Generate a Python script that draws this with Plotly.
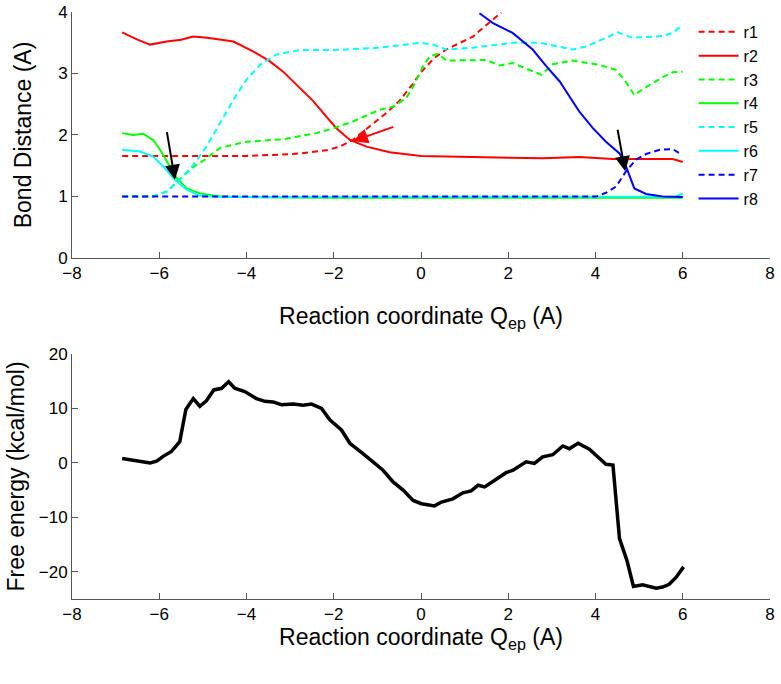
import plotly.graph_objects as go

# ---------------- data: bond distances (A) vs reaction coordinate ----------------
r1_x = [-6.85, -6.0, -5.0, -4.0, -3.2, -2.78, -2.17, -1.86, -1.56, -1.18, -0.79, -0.5, -0.2, 0.0, 0.3, 0.58, 0.9, 1.19, 1.5, 1.84]
r1_y = [1.66, 1.66, 1.66, 1.66, 1.68, 1.70, 1.75, 1.81, 1.92, 2.14, 2.36, 2.55, 2.82, 3.02, 3.25, 3.39, 3.5, 3.6, 3.79, 3.99]

r2_x = [-6.85, -6.5, -6.21, -5.83, -5.5, -5.22, -4.9, -4.61, -4.3, -3.85, -3.47, -3.16, -2.78, -2.47, -2.17, -1.94, -1.63, -1.25, -0.72, 0.0, 0.58, 1.2, 2.1, 2.8, 3.63, 4.4, 5.0, 5.77, 6.0]
r2_y = [3.67, 3.55, 3.47, 3.52, 3.55, 3.60, 3.58, 3.55, 3.52, 3.36, 3.20, 3.03, 2.76, 2.55, 2.30, 2.11, 1.92, 1.81, 1.72, 1.66, 1.65, 1.64, 1.62, 1.62, 1.64, 1.61, 1.61, 1.61, 1.56]

r3_x = [-6.85, -6.14, -5.83, -5.53, -5.22, -4.95, -4.61, -4.0, -3.16, -2.4, -2.0, -1.56, -0.95, -0.64, -0.34, -0.18, 0.05, 0.2, 0.39, 0.58, 1.19, 1.5, 1.8, 2.1, 2.41, 2.76, 3.02, 3.48, 4.09, 4.47, 4.66, 4.89, 5.16, 5.54, 5.77, 6.0]
r3_y = [1.0, 1.0, 1.08, 1.27, 1.48, 1.6, 1.79, 1.89, 1.93, 2.03, 2.11, 2.22, 2.41, 2.46, 2.6, 2.79, 3.12, 3.28, 3.32, 3.21, 3.21, 3.22, 3.13, 3.17, 3.08, 2.98, 3.15, 3.21, 3.14, 3.06, 2.9, 2.65, 2.78, 2.94, 3.02, 3.03]

r4_x = [-6.85, -6.6, -6.37, -6.14, -5.98, -5.76, -5.6, -5.37, -5.07, -4.6, -4.0, -2.0, 0.0, 2.0, 4.0, 6.0]
r4_y = [2.03, 2.0, 2.02, 1.92, 1.76, 1.49, 1.30, 1.13, 1.05, 1.0, 0.99, 0.98, 0.98, 0.98, 0.98, 0.98]

r5_x = [-6.85, -6.14, -5.83, -5.53, -5.22, -4.92, -4.61, -4.3, -4.0, -3.69, -3.31, -2.78, -2.0, -0.95, 0.0, 0.27, 0.58, 1.19, 2.1, 2.72, 3.48, 3.79, 4.24, 4.51, 4.85, 5.54, 5.77, 6.0]
r5_y = [1.0, 1.0, 1.08, 1.27, 1.51, 1.81, 2.19, 2.57, 2.90, 3.14, 3.31, 3.38, 3.38, 3.42, 3.50, 3.47, 3.39, 3.42, 3.50, 3.50, 3.39, 3.44, 3.58, 3.67, 3.58, 3.61, 3.66, 3.79]

r6_x = [-6.85, -6.44, -6.14, -5.91, -5.64, -5.37, -5.07, -4.5, -3.0, 0.0, 3.0, 5.5, 5.85, 6.0]
r6_y = [1.76, 1.73, 1.65, 1.49, 1.27, 1.11, 1.01, 0.99, 0.99, 0.99, 0.99, 0.99, 1.0, 1.05]

r7_x = [-6.85, -4.0, 0.0, 2.0, 4.02, 4.24, 4.47, 4.7, 4.93, 5.16, 5.47, 5.77, 5.96]
r7_y = [1.0, 1.0, 1.0, 1.0, 1.0, 1.06, 1.16, 1.41, 1.60, 1.69, 1.76, 1.77, 1.69]

r8_x = [1.34, 1.65, 2.1, 2.56, 2.87, 3.18, 3.4, 3.63, 3.94, 4.24, 4.55, 4.7, 4.89, 5.16, 5.54, 6.0]
r8_y = [3.98, 3.82, 3.66, 3.39, 3.12, 2.87, 2.63, 2.38, 2.11, 1.89, 1.70, 1.49, 1.13, 1.04, 1.0, 0.99]

# ---------------- data: free energy (kcal/mol) ----------------
fe_x = [-6.85, -6.44, -6.21, -6.06, -5.91, -5.72, -5.53, -5.39, -5.22, -5.07, -4.92, -4.75, -4.57, -4.41,
        -4.27, -4.04, -3.77, -3.58, -3.39, -3.2, -2.93, -2.7, -2.51, -2.28, -2.09, -1.82, -1.63, -1.33,
        -1.1, -0.87, -0.64, -0.41, -0.18, 0.01, 0.31, 0.47, 0.73, 0.96, 1.15, 1.31, 1.46, 1.76, 1.95,
        2.11, 2.41, 2.6, 2.79, 3.02, 3.25, 3.4, 3.6, 3.86, 4.09, 4.24, 4.4, 4.49, 4.55, 4.72, 4.87,
        5.08, 5.39, 5.54, 5.69, 5.85, 6.02]
fe_y = [0.8, 0.37, 0.0, 0.3, 1.2, 2.1, 3.9, 9.8, 11.8, 10.4, 11.4, 13.4, 13.7, 14.9,
        13.7, 13.1, 11.8, 11.3, 11.2, 10.7, 10.8, 10.6, 10.8, 10.0, 7.9, 6.0, 3.6, 1.7,
        0.2, -1.35, -3.5, -5.0, -6.9, -7.5, -7.9, -7.2, -6.6, -5.5, -5.15, -4.1, -4.4, -2.9, -1.8,
        -1.35, 0.2, -0.1, 1.1, 1.5, 3.1, 2.6, 3.6, 2.5, 0.8, -0.25, -0.4, -8.7, -13.9, -17.9, -22.7,
        -22.4, -23.0, -22.8, -22.3, -21.0, -19.1]

# arrows: (tail_x, tail_y, head_x, head_y, colour)
arrows = [(-5.83, 2.07, -5.64, 1.27, "black"),
          (4.5, 2.11, 4.68, 1.41, "black"),
          (-0.6, 2.14, -1.56, 1.9, "red")]

x_ticks = [-8, -6, -4, -2, 0, 2, 4, 6, 8]
top_y_ticks = [0, 1, 2, 3, 4]
bot_y_ticks = [-20, -10, 0, 10, 20]

RED, GREEN, CYAN, BLUE = "#ff0000", "#00ff00", "#00ffff", "#0000ff"
DASH = "6px,4px"
LW = 2

series = [
    ("r1", r1_x, r1_y, RED, DASH),
    ("r2", r2_x, r2_y, RED, "solid"),
    ("r3", r3_x, r3_y, GREEN, DASH),
    ("r4", r4_x, r4_y, GREEN, "solid"),
    ("r5", r5_x, r5_y, CYAN, DASH),
    ("r6", r6_x, r6_y, CYAN, "solid"),
    ("r7", r7_x, r7_y, BLUE, DASH),
    ("r8", r8_x, r8_y, BLUE, "solid"),
]

fig = go.Figure()
for name, xs, ys, col, dash in series:
    fig.add_trace(go.Scatter(x=xs, y=ys, mode="lines", name=name,
                             line=dict(color=col, width=LW, dash=dash),
                             xaxis="x", yaxis="y"))

fig.add_trace(go.Scatter(x=fe_x, y=fe_y, mode="lines", name="Free energy",
                         line=dict(color="black", width=3.5),
                         showlegend=False, xaxis="x2", yaxis="y2"))

for tx, ty, hx, hy, col in arrows:
    fig.add_annotation(x=hx, y=hy, ax=tx, ay=ty, xref="x", yref="y", axref="x", ayref="y",
                       showarrow=True, arrowhead=2, arrowsize=1.5, arrowwidth=2,
                       arrowcolor=col, text="")

FONT = "Liberation Sans, Arial, Helvetica, sans-serif"
axis_common = dict(showline=True, linecolor="#555", linewidth=1, ticks="inside",
                   ticklen=6, tickcolor="#555", showgrid=False, zeroline=False,
                   automargin=False, ticklabeloverflow="allow",
                   tickfont=dict(size=17, color="black", family=FONT), mirror=False)

title_x = "Reaction coordinate Q<sub>ep</sub> (A)"

fig.update_layout(
    width=781, height=684,
    margin=dict(l=72, r=11, t=12, b=85),
    paper_bgcolor="white", plot_bgcolor="white",
    font=dict(family=FONT, color="black"),
    showlegend=True,
    legend=dict(x=0.8905, y=0.995, xanchor="left", yanchor="top",
                bgcolor="rgba(0,0,0,0)", borderwidth=0, itemwidth=40,
                font=dict(size=16, family=FONT), tracegroupgap=0),
    xaxis=dict(domain=[0, 1], range=[-8, 8], tickvals=x_ticks, anchor="y",
               title=dict(text=title_x, font=dict(size=23), standoff=25), **axis_common),
    yaxis=dict(domain=[0.581, 1.0], range=[0, 4], tickvals=top_y_ticks, anchor="x",
               title=dict(text="Bond Distance (A)", font=dict(size=23), standoff=20), **axis_common),
    xaxis2=dict(domain=[0, 1], range=[-8, 8], tickvals=x_ticks, anchor="y2",
                title=dict(text=title_x, font=dict(size=23), standoff=0), **axis_common),
    yaxis2=dict(domain=[0, 0.4174], range=[-25, 20], tickvals=bot_y_ticks, anchor="x2",
                title=dict(text="Free energy (kcal/mol)", font=dict(size=23), standoff=7), **axis_common),
)

fig.write_html("out.html", config={"displayModeBar": False},
               post_script="document.body.style.margin='0';")
